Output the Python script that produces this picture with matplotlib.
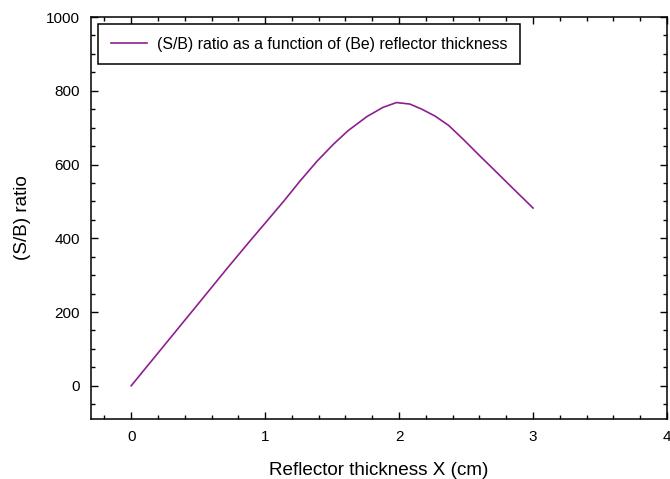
import numpy as np
import matplotlib
matplotlib.use("Agg")
import matplotlib.pyplot as plt
from matplotlib.ticker import MultipleLocator

plt.rcParams['font.family'] = ['Liberation Sans', 'DejaVu Sans']

# reflector thickness (cm) and signal/background ratio
thickness = [0.0, 0.25, 0.5, 0.72, 0.89, 1.0, 1.14, 1.26, 1.39, 1.51,
             1.62, 1.76, 1.88, 1.98, 2.08, 2.17, 2.27, 2.37, 2.48, 2.59,
             2.70, 2.82, 2.91, 3.0]
sb_ratio = [0, 111, 222, 320, 394, 441, 501, 555, 610, 655,
            692, 730, 755, 768, 764, 750, 731, 706, 668, 628,
            589, 546, 514, 482]

fig = plt.figure(figsize=(6.7, 4.79), dpi=100)
ax = fig.add_axes([0.1358, 0.1253, 0.8597, 0.8392])

ax.plot(thickness, sb_ratio, color='#8e1f8e', lw=1.2,
        label='(S/B) ratio as a function of (Be) reflector thickness')

ax.set_xlim(-0.3, 4)
ax.set_ylim(-90, 1000)
ax.xaxis.set_major_locator(MultipleLocator(1))
ax.xaxis.set_minor_locator(MultipleLocator(0.2))
ax.yaxis.set_major_locator(MultipleLocator(200))
ax.yaxis.set_minor_locator(MultipleLocator(50))
ax.tick_params(which='both', direction='in', top=True, right=True,
               labelsize=11, width=1)
ax.tick_params(which='major', length=5, pad=8)
ax.tick_params(which='minor', length=3)
for s in ax.spines.values():
    s.set_linewidth(1.1)

ax.set_xlabel('Reflector thickness X (cm)', fontsize=13.6, labelpad=13)
ax.set_ylabel('(S/B) ratio', fontsize=13.6, labelpad=11)

leg = ax.legend(loc='upper left', fontsize=11.4, fancybox=False,
                edgecolor='black', framealpha=1, borderaxespad=0.45,
                handlelength=2.3, handletextpad=0.6, borderpad=0.8)
leg.get_frame().set_linewidth(1.1)

fig.savefig('out.png', dpi=100)
